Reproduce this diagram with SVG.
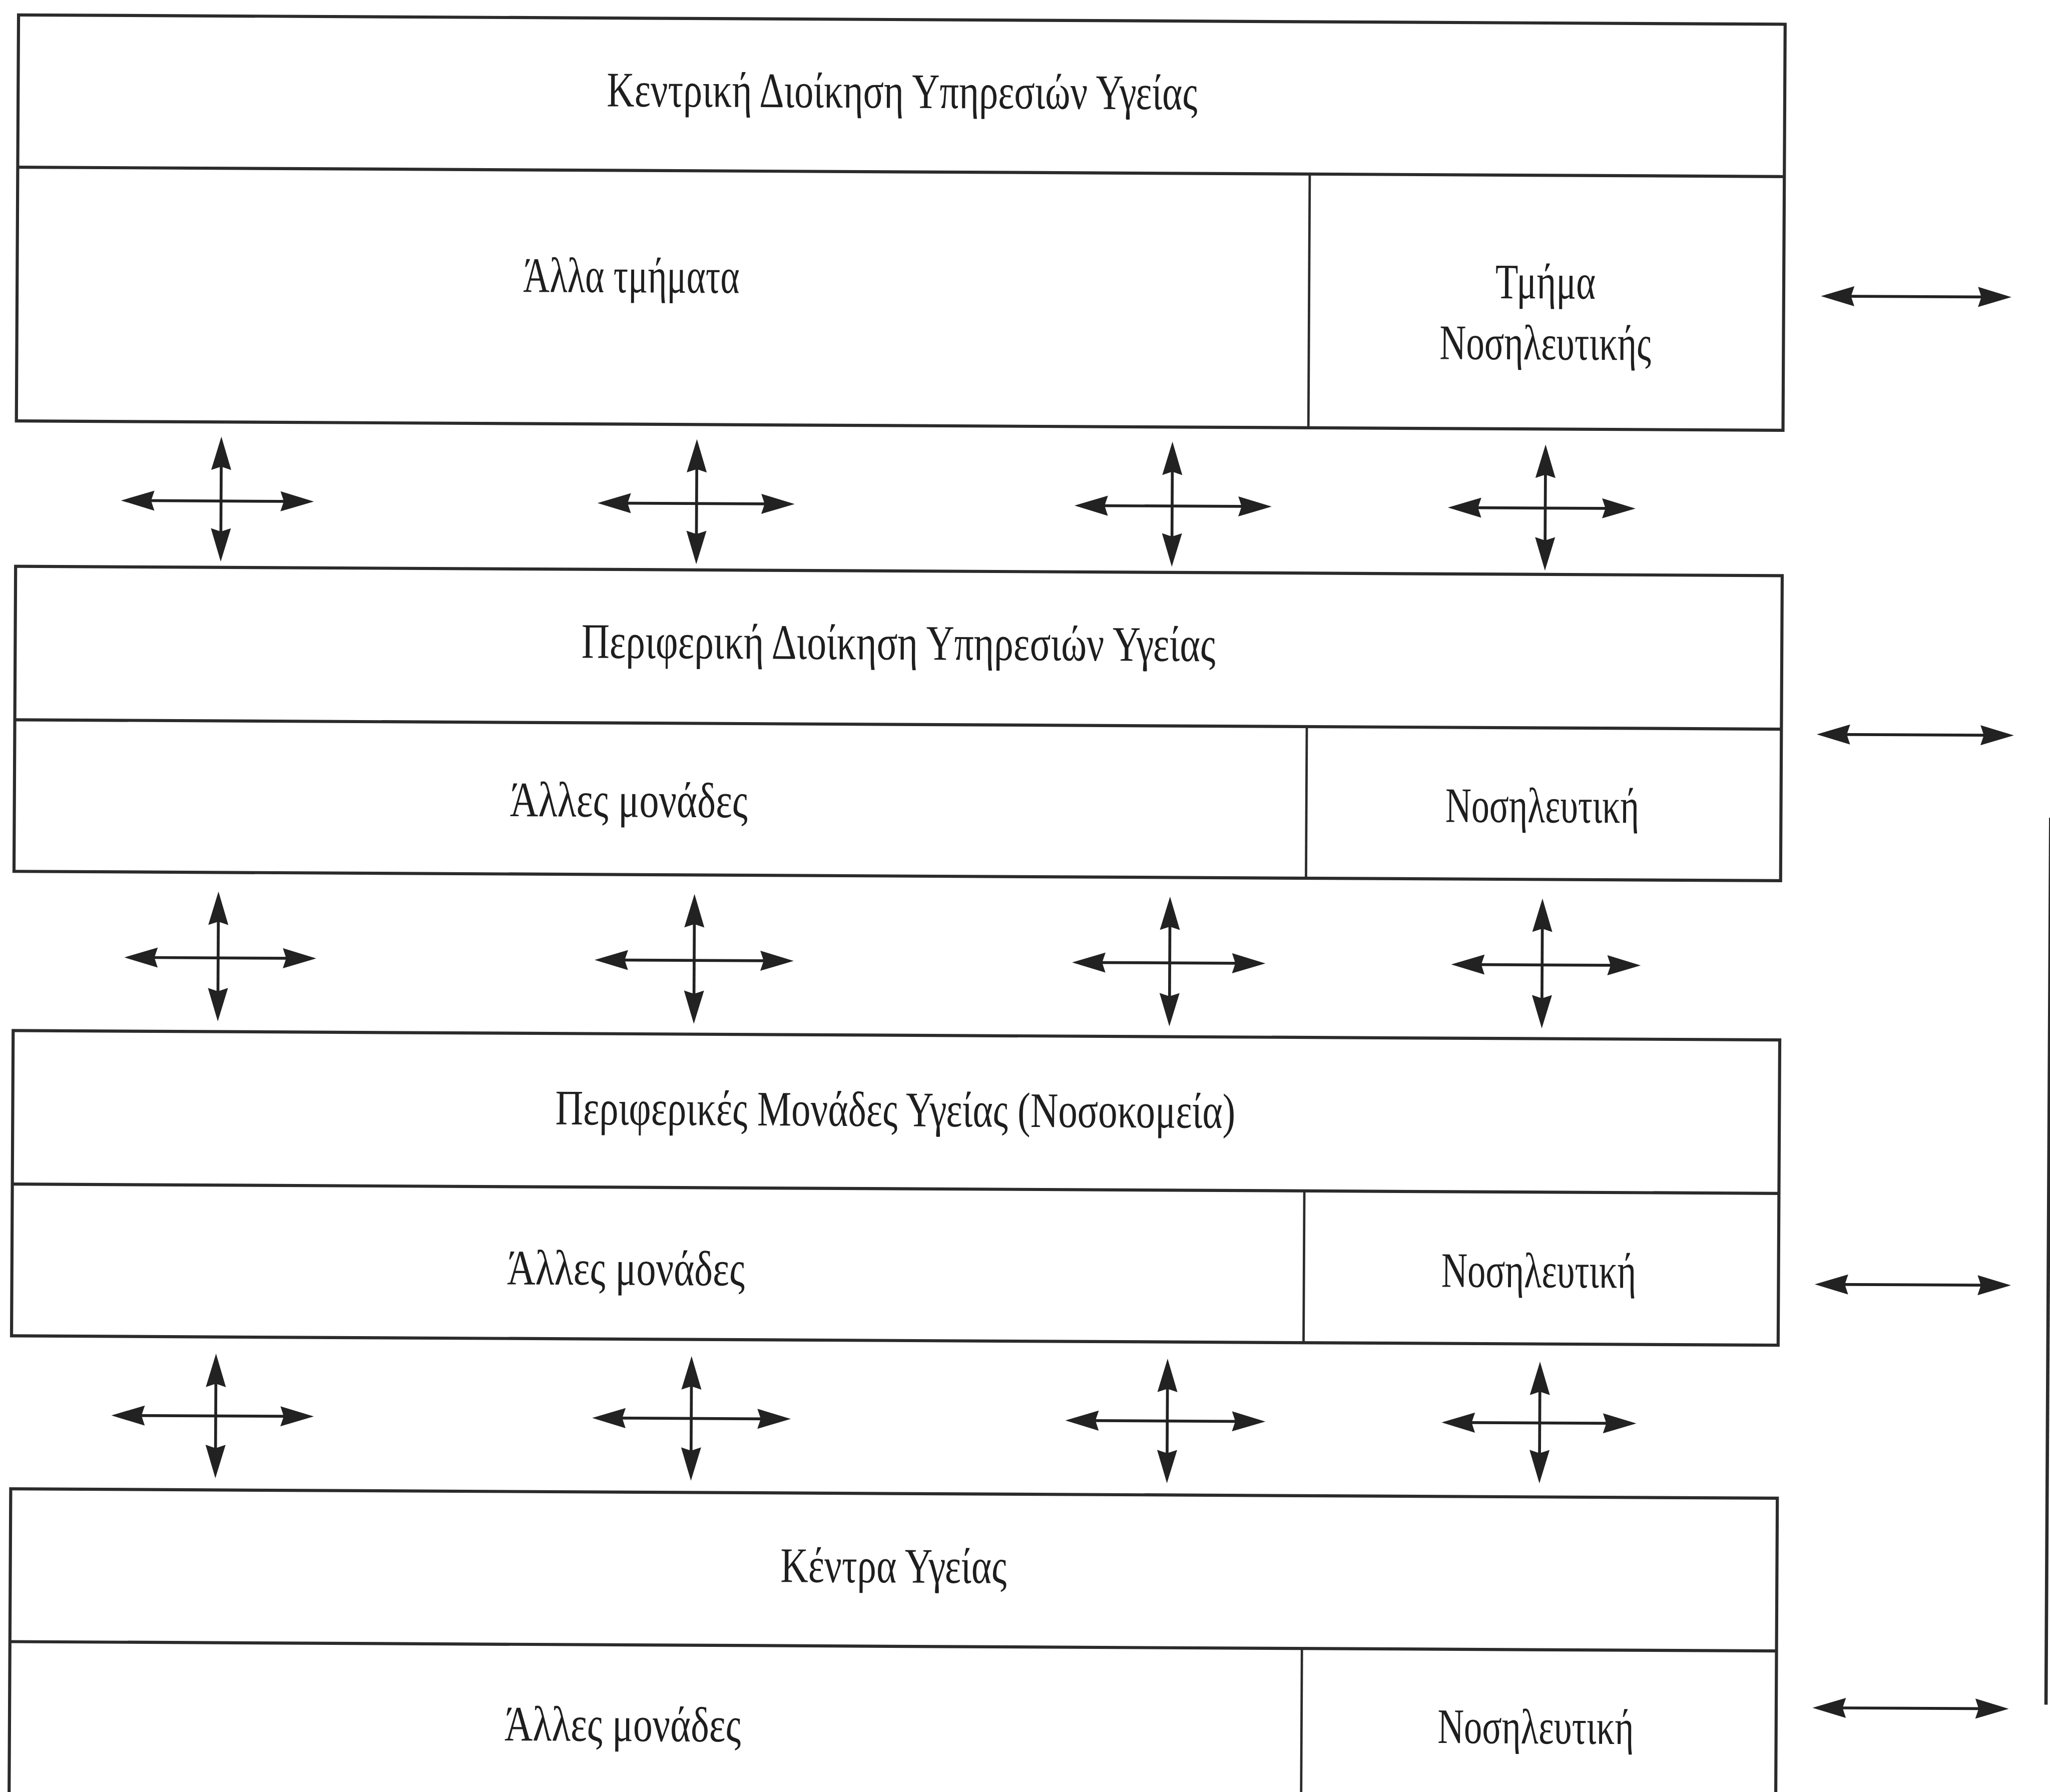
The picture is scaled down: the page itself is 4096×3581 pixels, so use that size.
<svg xmlns="http://www.w3.org/2000/svg" width="4096" height="3581" viewBox="0 0 4096 3581">
<style>
.box{fill:none;stroke:#2b2b2b;stroke-width:6.5}
.hdiv{stroke:#2b2b2b;stroke-width:6.5}
.vdiv{stroke:#2b2b2b;stroke-width:5}
.lbl{font-family:"Liberation Serif","Times New Roman",serif;font-size:104px;fill:#1e1e1e}
.arr{stroke:#222;stroke-width:6;fill:none;marker-start:url(#ah);marker-end:url(#ah)}
.bar{stroke:#2b2b2b;stroke-width:7}
</style>
<defs>
<marker id="ah" markerUnits="userSpaceOnUse" viewBox="-52 -24 74 48" markerWidth="74" markerHeight="48" refX="0" refY="0" orient="auto-start-reverse">
<path d="M20,0 L-50,-21 L-43,0 L-50,21 Z" fill="#222"/>
</marker>
</defs>
<rect width="4096" height="3581" fill="#ffffff"/>
<g transform="scale(0.954) rotate(0.304)">
<g id="central-admin">
<rect class="box" x="39" y="31" width="3700" height="850.5"/>
<line class="hdiv" x1="39" y1="350" x2="3739" y2="350"/>
<line class="vdiv" x1="2745" y1="350" x2="2745" y2="881.5"/>
<text class="lbl" x="1272" y="216" textLength="1237" lengthAdjust="spacingAndGlyphs">Κεντρική Διοίκηση Υπηρεσιών Υγείας</text>
<g id="central-other"><text class="lbl" x="1099" y="605.5" textLength="453" lengthAdjust="spacingAndGlyphs">Άλλα τμήματα</text></g>
<g id="central-nursing">
<text class="lbl" x="3135" y="608" textLength="210" lengthAdjust="spacingAndGlyphs">Τμήμα</text>
<text class="lbl" x="3019" y="736" textLength="443" lengthAdjust="spacingAndGlyphs">Νοσηλευτικής</text>
</g>
</g>
<g id="regional-admin">
<rect class="box" x="39" y="1186" width="3700" height="639"/>
<line class="hdiv" x1="39" y1="1507.5" x2="3739" y2="1507.5"/>
<line class="vdiv" x1="2745" y1="1507.5" x2="2745" y2="1825"/>
<text class="lbl" x="1225" y="1371.5" textLength="1328" lengthAdjust="spacingAndGlyphs">Περιφερική Διοίκηση Υπηρεσιών Υγείας</text>
<g id="regional-other"><text class="lbl" x="1077" y="1704" textLength="498" lengthAdjust="spacingAndGlyphs">Άλλες μονάδες</text></g>
<g id="regional-nursing"><text class="lbl" x="3036" y="1705.5" textLength="406" lengthAdjust="spacingAndGlyphs">Νοσηλευτική</text></g>
</g>
<g id="hospitals">
<rect class="box" x="39" y="2158.5" width="3700" height="639.5"/>
<line class="hdiv" x1="39" y1="2480" x2="3739" y2="2480"/>
<line class="vdiv" x1="2745" y1="2480" x2="2745" y2="2798"/>
<text class="lbl" x="1175.5" y="2349" textLength="1424" lengthAdjust="spacingAndGlyphs">Περιφερικές Μονάδες Υγείας (Νοσοκομεία)</text>
<g id="hospitals-other"><text class="lbl" x="1076" y="2684.5" textLength="498" lengthAdjust="spacingAndGlyphs">Άλλες μονάδες</text></g>
<g id="hospitals-nursing"><text class="lbl" x="3033" y="2679.5" textLength="408" lengthAdjust="spacingAndGlyphs">Νοσηλευτική</text></g>
</g>
<g id="health-centres">
<rect class="box" x="39" y="3118.5" width="3700" height="700"/>
<line class="hdiv" x1="39" y1="3438.5" x2="3739" y2="3438.5"/>
<line class="vdiv" x1="2745" y1="3438.5" x2="2745" y2="3818"/>
<text class="lbl" x="1652" y="3305" textLength="474" lengthAdjust="spacingAndGlyphs">Κέντρα Υγείας</text>
<g id="centres-other"><text class="lbl" x="1076" y="3640" textLength="495" lengthAdjust="spacingAndGlyphs">Άλλες μονάδες</text></g>
<g id="centres-nursing"><text class="lbl" x="3030" y="3635" textLength="411" lengthAdjust="spacingAndGlyphs">Νοσηλευτική</text></g>
</g>
<g id="connectors">
<line class="arr" x1="279" y1="1047" x2="643" y2="1047"/>
<line class="arr" x1="468.5" y1="932" x2="468.5" y2="1154"/>
<line class="arr" x1="1277" y1="1047" x2="1650" y2="1047"/>
<line class="arr" x1="1464.5" y1="932" x2="1464.5" y2="1154"/>
<line class="arr" x1="2276" y1="1047" x2="2649" y2="1047"/>
<line class="arr" x1="2460.5" y1="932" x2="2460.5" y2="1154"/>
<line class="arr" x1="3058" y1="1047" x2="3411" y2="1047"/>
<line class="arr" x1="3242" y1="934" x2="3242" y2="1158"/>
<line class="arr" x1="291" y1="2004" x2="653" y2="2004"/>
<line class="arr" x1="467.5" y1="1885" x2="467.5" y2="2117"/>
<line class="arr" x1="1276" y1="2004" x2="1653" y2="2004"/>
<line class="arr" x1="1464.5" y1="1885" x2="1464.5" y2="2117"/>
<line class="arr" x1="2276" y1="2004" x2="2641" y2="2004"/>
<line class="arr" x1="2460.5" y1="1885" x2="2460.5" y2="2117"/>
<line class="arr" x1="3070" y1="2004" x2="3427" y2="2004"/>
<line class="arr" x1="3240.5" y1="1885" x2="3240.5" y2="2117"/>
<line class="arr" x1="269" y1="2963.5" x2="653" y2="2963.5"/>
<line class="arr" x1="467.5" y1="2853" x2="467.5" y2="3074"/>
<line class="arr" x1="1276" y1="2963.5" x2="1652" y2="2963.5"/>
<line class="arr" x1="1463.5" y1="2853" x2="1463.5" y2="3074"/>
<line class="arr" x1="2267" y1="2963.5" x2="2646" y2="2963.5"/>
<line class="arr" x1="2460.5" y1="2853" x2="2460.5" y2="3074"/>
<line class="arr" x1="3055" y1="2963.5" x2="3423" y2="2963.5"/>
<line class="arr" x1="3240.5" y1="2855" x2="3240.5" y2="3070"/>
<line class="arr" x1="3837" y1="600" x2="4196" y2="600"/>
<line class="arr" x1="3833" y1="1518" x2="4206" y2="1518"/>
<line class="arr" x1="3835" y1="2670" x2="4206" y2="2670"/>
<line class="arr" x1="3835" y1="3557" x2="4206" y2="3557"/>
<line class="bar" x1="4304" y1="1690" x2="4304" y2="3548"/>
</g>
</g>
</svg>
